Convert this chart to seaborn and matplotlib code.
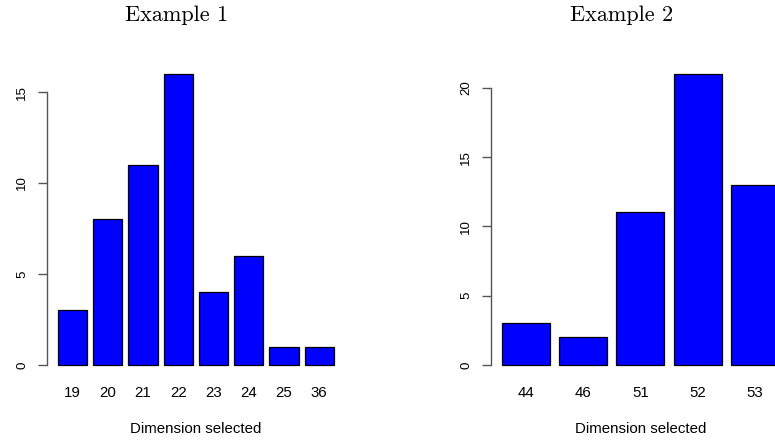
import matplotlib
matplotlib.use("Agg")
import matplotlib.pyplot as plt
import seaborn as sns
import pandas as pd

# Data
cats1 = ["19", "20", "21", "22", "23", "24", "25", "36"]
vals1 = [3, 8, 11, 16, 4, 6, 1, 1]
cats2 = ["44", "46", "51", "52", "53"]
vals2 = [3, 2, 11, 21, 13]
titles = ["Example 1", "Example 2"]
xlabel = "Dimension selected"
yticks1 = [0, 5, 10, 15]
yticks2 = [0, 5, 10, 15, 20]

sns.set_style("white")
plt.rcParams["font.family"] = ["Liberation Sans", "DejaVu Sans"]
plt.rcParams["text.color"] = "black"
plt.rcParams["axes.labelcolor"] = "black"
plt.rcParams["xtick.color"] = "black"
plt.rcParams["ytick.color"] = "black"

W, H = 775, 440
fig = plt.figure(figsize=(W / 100, H / 100), dpi=100)

def px_axes(x0, x1, ytop, ybot):
    return [x0 / W, 1 - ybot / H, (x1 - x0) / W, (ybot - ytop) / H]

spine_col = "#555555"

def panel(rect, cats, vals, yticks, title, title_x):
    ax = fig.add_axes(rect)
    df = pd.DataFrame({"cat": cats, "val": vals})
    sns.barplot(data=df, x="cat", y="val", order=cats, color="#0000FF",
                saturation=1, edgecolor="black", linewidth=0.9,
                width=0.833, ax=ax)
    n = len(cats)
    span = n - 1 + 0.833
    ext = 0.04 * span
    ax.set_xlim(-0.4165 - ext, n - 1 + 0.4165 + ext)
    ymax = max(vals)
    ax.set_ylim(-0.04 * ymax, ymax * 1.04)
    for s in ["top", "right", "bottom"]:
        ax.spines[s].set_visible(False)
    ax.spines["left"].set_bounds(yticks[0], yticks[-1])
    ax.spines["left"].set_color(spine_col)
    ax.spines["left"].set_linewidth(1.0)
    ax.set_yticks(yticks)
    ax.set_yticklabels([str(t) for t in yticks], rotation=90, va="center")
    ax.tick_params(axis="y", length=6.5, width=1.0, color=spine_col,
                   labelcolor="black", pad=6.8, labelsize=9.6, left=True)
    ax.tick_params(axis="x", length=0, pad=6.8, labelsize=10.8,
                   labelcolor="black")
    ax.set_ylabel("")
    ax.set_xlabel(xlabel, fontsize=10.8, va="center", color="black")
    ax.xaxis.set_label_coords(0.5, -0.1667)
    fig.text(title_x / W, 1 - 15 / H, title, ha="center", va="center",
             fontsize=16, color="black", family=["cmr10", "DejaVu Serif"])
    return ax

panel(px_axes(46.7, 345.0, 62.2, 376.6), cats1, vals1, yticks1, titles[0], 177)
panel(px_axes(490.7, 790.0, 62.2, 376.6), cats2, vals2, yticks2, titles[1], 622)

fig.savefig("out.png", dpi=100)
